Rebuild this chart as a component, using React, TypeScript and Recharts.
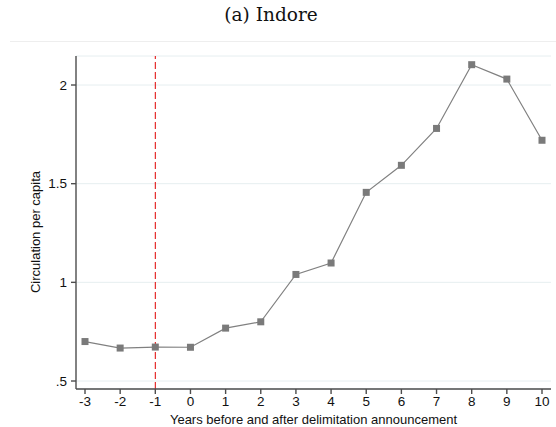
import React from "react";
import {
  LineChart,
  Line,
  XAxis,
  YAxis,
  CartesianGrid,
  ReferenceLine,
  Label,
} from "recharts";

const years = [-3, -2, -1, 0, 1, 2, 3, 4, 5, 6, 7, 8, 9, 10];
const circulation = [0.7, 0.667, 0.672, 0.671, 0.768, 0.8, 1.04, 1.098, 1.456, 1.593, 1.78, 2.103, 2.03, 1.72];
const yTicks = [0.5, 1, 1.5, 2];
const announcementYear = -1;

const data = years.map((x, i) => ({ x, y: circulation[i] }));

const axisColor = "#4d4d4d";
const sans = "'Liberation Sans', Arial, sans-serif";

const SquareDot = (props: any) => {
  const { cx, cy } = props;
  if (cx == null || cy == null) return null;
  return <rect x={cx - 3.5} y={cy - 3.5} width={7} height={7} fill="#7a7a7a" />;
};

const App = () => {
  return (
    <div style={{ position: "absolute", left: 0, top: 0, width: 556, height: 427, background: "#fff" }}>
      <style>{`body{margin:0}`}</style>
      <div
        style={{
          position: "absolute",
          left: 0,
          top: 4,
          width: 542,
          textAlign: "center",
          fontFamily: "'DejaVu Serif', serif",
          fontSize: 18.5,
          color: "#111",
        }}
      >
        (a) Indore
      </div>
      <div style={{ position: "absolute", left: 10, top: 41, width: 546, height: 0, borderTop: "1px solid #eeeeee" }} />
      <LineChart
        width={556}
        height={427}
        data={data}
        margin={{ top: 56, right: 5, left: 0, bottom: 0 }}
        style={{ position: "absolute", left: 0, top: 0 }}
      >
        <CartesianGrid vertical={false} stroke="#e6eef0" strokeWidth={1} />
        <XAxis
          dataKey="x"
          type="number"
          domain={[-3.256, 10.256]}
          ticks={years}
          allowDataOverflow
          height={38}
          stroke={axisColor}
          strokeWidth={1.4}
          tickSize={5}
          tickMargin={2}
          tick={{ fill: "#111", fontSize: 13.5, fontFamily: sans }}
        >
          <Label
            content={() => (
              <text x={313.5} y={423.5} textAnchor="middle" fill="#111" fontSize={13} fontFamily={sans}>
                Years before and after delimitation announcement
              </text>
            )}
          />
        </XAxis>
        <YAxis
          type="number"
          domain={[0.4595, 2.147]}
          ticks={yTicks}
          allowDataOverflow
          width={76}
          stroke={axisColor}
          strokeWidth={1.4}
          tickSize={5}
          tickMargin={4}
          tickFormatter={(v: number) => (v === 0.5 ? ".5" : String(v))}
          tick={{ fill: "#111", fontSize: 13.5, fontFamily: sans }}
        >
          <Label
            content={() => (
              <text
                x={0}
                y={0}
                transform="translate(39.5, 232) rotate(-90)"
                textAnchor="middle"
                fill="#111"
                fontSize={13}
                fontFamily={sans}
              >
                Circulation per capita
              </text>
            )}
          />
        </YAxis>
        <ReferenceLine x={announcementYear} stroke="#e00000" strokeWidth={1} strokeDasharray="7 3" />
        <Line
          type="linear"
          dataKey="y"
          stroke="#808080"
          strokeWidth={1.2}
          dot={<SquareDot />}
          activeDot={false}
          isAnimationActive={false}
        />
      </LineChart>
    </div>
  );
};

export default App;
